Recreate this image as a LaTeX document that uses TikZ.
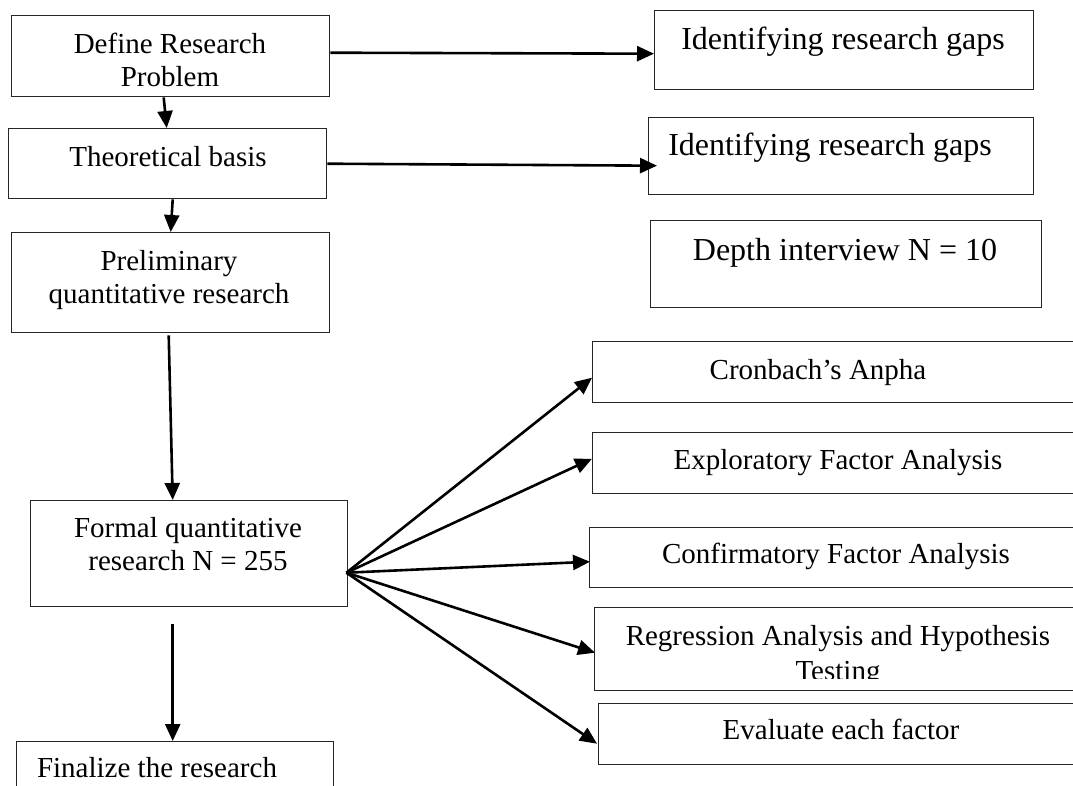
\documentclass[tikz,border=0pt]{standalone}
\usepackage{fontspec}
\setmainfont{Liberation Serif}
\usetikzlibrary{arrows.meta}
\begin{document}
\begin{tikzpicture}[x=1pt,y=-1pt,
  box/.style={draw=black!85,line width=1.4pt,inner sep=0pt,anchor=north west},
  txt/.style={font=\fontsize{29}{34}\selectfont,anchor=base,inner sep=0pt},
  big/.style={font=\fontsize{32}{38}\selectfont,anchor=base,inner sep=0pt},
  arr/.style={line width=2.6pt,-{Triangle[length=17pt,width=15pt]}}]
\clip (0,0) rectangle (1073,785);
\fill[white] (0,0) rectangle (1073,785);
% left column boxes
\node[box,minimum width=318pt,minimum height=81pt] (b1) at (11,15) {};
\node[box,minimum width=318pt,minimum height=70pt] (b2) at (8,128) {};
\node[box,minimum width=318pt,minimum height=100pt] (b3) at (11,232) {};
\node[box,minimum width=317pt,minimum height=106pt] (b4) at (30,500) {};
\node[box,minimum width=317pt,minimum height=80pt] (b5) at (16,741) {};
% top right boxes
\node[box,minimum width=379pt,minimum height=79pt] (r1) at (654,10) {};
\node[box,minimum width=385pt,minimum height=77pt] (r2) at (648,117) {};
\node[box,minimum width=391pt,minimum height=87pt] (r3) at (650,220) {};
% analysis boxes
\node[box,minimum width=500pt,minimum height=61pt] (c1) at (592,341) {};
\node[box,minimum width=500pt,minimum height=61pt] (c2) at (592,432) {};
\node[box,minimum width=503pt,minimum height=60pt] (c3) at (589,527) {};
\node[box,minimum width=498pt,minimum height=83pt] (c4) at (594,607) {};
\node[box,minimum width=494pt,minimum height=61pt] (c5) at (598,703) {};
% texts
\node[txt] (t1a) at (170,53) {Define Research};
\node[txt] (t1b) at (170,86) {Problem};
\node[txt] (t2) at (168,166) {Theoretical basis};
\node[txt] (t3a) at (169,270) {Preliminary};
\node[txt] (t3b) at (169,303) {quantitative research};
\node[txt] (t4a) at (188,537) {Formal quantitative};
\node[txt] (t4b) at (188,570) {research N = 255};
\node[txt] (t5) at (157,777) {Finalize the research};
\node[big] (tr1) at (843,49) {Identifying research gaps};
\node[big] (tr2) at (830,155) {Identifying research gaps};
\node[big] (tr3) at (845,260) {Depth interview N = 10};
\node[txt] (tc1) at (818,379) {Cronbach’s Anpha};
\node[txt] (tc2) at (838,469) {Exploratory Factor Analysis};
\node[txt] (tc3) at (836,563) {Confirmatory Factor Analysis};
\node[txt] (tc4a) at (838,645) {Regression Analysis and Hypothesis};
\begin{scope}
\clip (594,607) rectangle (1073,678);
\node[txt] (tc4b) at (838,680) {Testing};
\end{scope}
\node[txt] (tc5) at (841,739) {Evaluate each factor};
% connectors
\draw[arr] ([yshift=3.5pt]b1.east) -- ([yshift=-3.5pt]r1.west);
\draw[arr] (b2.east) -- ([xshift=9pt,yshift=-9.5pt]r2.west);
\draw[arr] ([xshift=-7pt]b1.south) -- ([xshift=-1pt]b2.north);
\draw[arr] ([xshift=5pt]b2.south) -- (b3.north);
\draw[arr] ([xshift=-2pt,yshift=-2pt]b3.south) -- ([xshift=-16.5pt]b4.north);
\draw[arr] ([xshift=-16.5pt,yshift=-17pt]b4.south) -- ([xshift=-2.5pt]b5.north);
\coordinate (fan) at ([xshift=-2pt,yshift=-19pt]b4.east);
\draw[arr] (fan) -- ([yshift=-5.5pt]c1.west);
\draw[arr] (fan) -- ([yshift=4.5pt]c2.west);
\draw[arr] (fan) -- ([xshift=1pt,yshift=-4pt]c3.west);
\draw[arr] (fan) -- ([xshift=1pt,yshift=-3.5pt]c4.west);
\draw[arr] (fan) -- ([xshift=-1pt,yshift=-9.5pt]c5.west);
\end{tikzpicture}
\end{document}
